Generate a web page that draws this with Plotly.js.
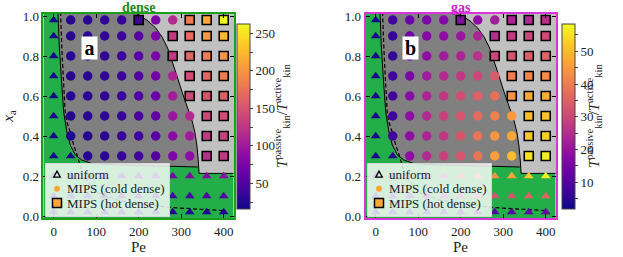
<!DOCTYPE html>
<html><head><meta charset="utf-8">
<script src="https://cdn.plot.ly/plotly-3.0.1.min.js"></script>
<style>html,body{margin:0;padding:0;background:#fff}</style>
</head><body><div id="chart" style="width:623px;height:257px"></div>
<script>
// ---- data ----
const Pe = [0, 40, 80, 120, 160, 200, 240, 280, 320, 360, 400];
const xa = [0.98, 0.9, 0.8, 0.7, 0.6, 0.5, 0.4, 0.3, 0.2, 0.1, 0.02];
// u = uniform, c = MIPS (cold dense), h = MIPS (hot dense)
const phase = [
  "ucccchcchhh",
  "ucccccchhhh",
  "ucccccchhhh",
  "uccccccchhh",
  "uccccccchhh",
  "ucccccccchh",
  "ucccccccchh",
  "uuccccccchh",
  "uuuuuuuuuuu",
  "uuuuuuuuuuu",
  "uuuuuuuuuuu"
];
const denseT = [
  [22, 29, 31, 34, 36, 41, 78, 115, 184, 214, 263],
  [22, 29, 31, 34, 39, 54, 78, 130, 170, 202, 226],
  [22, 29, 31, 34, 39, 54, 78, 128, 165, 184, 202],
  [22, 29, 31, 34, 39, 51, 71, 110, 145, 165, 184],
  [21, 28, 31, 34, 38, 49, 66, 103, 140, 152, 160],
  [21, 28, 30, 33, 36, 46, 61, 98, 115, 140, 145],
  [20, 26, 29, 31, 36, 41, 54, 86, 103, 128, 135],
  [19, 24, 29, 31, 36, 41, 51, 78, 91, 120, 128],
  [18, 26, 31, 36, 41, 49, 58, 71, 78, 83, 86],
  [17, 21, 24, 27, 30, 33, 36, 41, 46, 49, 51],
  [17, 18, 19, 20, 21, 22, 23, 24, 25, 26, 27]
];
const gasT = [
  [3, 7.7, 13.3, 16, 17, 18, 19, 22, 23.5, 24.6, 25.7],
  [3, 6.5, 13.3, 17.3, 19, 20.6, 23.5, 25.7, 28, 30, 31],
  [3, 6.5, 14.4, 19, 21.8, 23.5, 26, 30, 33, 35, 36],
  [3, 7.7, 16, 21.8, 24.6, 27.4, 30.3, 34, 40.4, 41.6, 42.7],
  [3, 7.7, 17.8, 23.5, 27.4, 31.4, 35, 38, 44.4, 47.2, 48.3],
  [3, 7.7, 19, 24.6, 29, 33, 37, 41, 45, 50, 51.2],
  [3, 7.7, 19, 23.5, 27.4, 33, 38.7, 44.4, 47.2, 51.7, 52.9],
  [3, 4.8, 19, 24.6, 29, 33, 38.7, 46, 50, 55.7, 57],
  [3, 8, 14, 20, 26, 32, 38, 44, 47, 52, 57],
  [3, 6, 10, 15, 20, 25, 29, 33, 33, 35, 36],
  [2, 3, 4, 5, 6, 7, 8, 10, 11, 12, 13]
];
// phase boundaries
const coldLeftPe = [10, 13, 18, 23.5, 31, 39, 51, 66, 90, 150, 250, 339];
const coldLeftXa = [1.02, 0.855, 0.685, 0.52, 0.42, 0.355, 0.305, 0.28, 0.262, 0.255, 0.25, 0.245];
const hotEdgePe = [190, 205, 222, 240, 255, 268, 278, 290, 302, 314, 325, 332, 337, 340, 342, 430];
const hotEdgeXa = [1.02, 1.0, 0.975, 0.94, 0.895, 0.84, 0.78, 0.70, 0.62, 0.55, 0.48, 0.42, 0.35, 0.28, 0.213, 0.213];
const spinPe = [16, 20, 27, 31, 39, 47, 55, 70, 100, 150, 200, 274, 340, 403];
const spinXa = [1.02, 0.8, 0.52, 0.47, 0.42, 0.355, 0.305, 0.2, 0.12, 0.08, 0.06, 0.043, 0.034, 0.027];
const legendNames = ["uniform", "MIPS (cold dense)", "MIPS (hot dense)"];

// ---- styles ----
const FONT = "Liberation Serif, Times New Roman, serif";
const GREEN = "#23ae4a";
const DARK = "#808080", LIGHT = "#c0c0c0";
const PLASMA = [[0, "#0d0887"], [0.1, "#41049d"], [0.2, "#6a00a8"], [0.3, "#8f0da4"], [0.4, "#b12a90"],
  [0.5, "#cc4778"], [0.6, "#e16462"], [0.7, "#f2844b"], [0.8, "#fca636"], [0.9, "#fcce25"], [1, "#f0f921"]];
const W = 623, PLOT_TOP = 14, PLOT_BOT = 218;
const px2x = p => p / W;
const py2y = p => (PLOT_BOT - p) / (PLOT_BOT - PLOT_TOP);

function panel(T, xid, yid, cax) {
  const tr = [];
  const dx = coldLeftPe.concat([345, 345]);
  const dy = coldLeftXa.concat([0.245, 1.02]);
  tr.push({x: dx, y: dy, xaxis: xid, yaxis: yid, mode: "lines", fill: "toself",
    fillcolor: DARK, line: {width: 0}, hoverinfo: "skip", showlegend: false});
  const lx = hotEdgePe.concat([430]);
  const ly = hotEdgeXa.concat([1.02]);
  tr.push({x: lx, y: ly, xaxis: xid, yaxis: yid, mode: "lines", fill: "toself",
    fillcolor: LIGHT, line: {width: 0}, hoverinfo: "skip", showlegend: false});
  tr.push({x: coldLeftPe, y: coldLeftXa, xaxis: xid, yaxis: yid, mode: "lines",
    line: {color: "black", width: 1}, hoverinfo: "skip", showlegend: false});
  tr.push({x: hotEdgePe, y: hotEdgeXa, xaxis: xid, yaxis: yid, mode: "lines",
    line: {color: "black", width: 1}, hoverinfo: "skip", showlegend: false});
  tr.push({x: spinPe, y: spinXa, xaxis: xid, yaxis: yid, mode: "lines",
    line: {color: "black", width: 1.2, dash: "4px,2.5px"}, hoverinfo: "skip", showlegend: false});
  const sets = {u: {x: [], y: [], c: []}, c: {x: [], y: [], c: []}, h: {x: [], y: [], c: []}};
  for (let i = 0; i < xa.length; i++) {
    for (let j = 0; j < Pe.length; j++) {
      const s = sets[phase[i][j]];
      s.x.push(Pe[j]); s.y.push(xa[i]); s.c.push(T[i][j]);
    }
  }
  tr.push({x: sets.u.x, y: sets.u.y, xaxis: xid, yaxis: yid, mode: "markers", showlegend: false,
    marker: {symbol: "triangle-up", size: 8.5, color: sets.u.c, coloraxis: cax, line: {width: 0}}, hoverinfo: "skip"});
  tr.push({x: sets.c.x, y: sets.c.y, xaxis: xid, yaxis: yid, mode: "markers", showlegend: false,
    marker: {symbol: "circle", size: 9.5, color: sets.c.c, coloraxis: cax, line: {width: 0}}, hoverinfo: "skip"});
  tr.push({x: sets.h.x, y: sets.h.y, xaxis: xid, yaxis: yid, mode: "markers", showlegend: false,
    marker: {symbol: "square", size: 9, color: sets.h.c, coloraxis: cax, line: {width: 1.6, color: "black"}}, hoverinfo: "skip"});
  return tr;
}

const data = panel(denseT, "x", "y", "coloraxis").concat(panel(gasT, "x2", "y2", "coloraxis2"));

// hand-drawn legend boxes (matplotlib style)
const shapes = [], annotations = [];
function legendBox(left) {
  const right = left + 124, top = 163.5, bot = 216.5;
  shapes.push({type: "rect", xref: "paper", yref: "paper", x0: px2x(left), x1: px2x(right),
    y0: py2y(bot), y1: py2y(top), fillcolor: "rgba(255,255,255,0.82)", line: {color: "#d6d6d6", width: 1}, layer: "above"});
  const rows = [174.5, 188.7, 203];
  const sx = px2x(left + 11.5);
  shapes.push({type: "path", xref: "paper", yref: "paper", xsizemode: "pixel", ysizemode: "pixel",
    xanchor: sx, yanchor: py2y(rows[0]), path: "M -3.3 -2.6 L 3.3 -2.6 L 0 3.3 Z",
    line: {color: "black", width: 1.3}, fillcolor: "rgba(0,0,0,0)"});
  shapes.push({type: "circle", xref: "paper", yref: "paper", xsizemode: "pixel", ysizemode: "pixel",
    xanchor: sx, yanchor: py2y(rows[1]), x0: -3, x1: 3, y0: -3, y1: 3, fillcolor: "#fca636", line: {width: 0}});
  shapes.push({type: "rect", xref: "paper", yref: "paper", xsizemode: "pixel", ysizemode: "pixel",
    xanchor: sx, yanchor: py2y(rows[2]), x0: -4.5, x1: 4.5, y0: -4.5, y1: 4.5, fillcolor: "#fca636",
    line: {color: "black", width: 1.5}});
  for (let k = 0; k < 3; k++) {
    annotations.push({text: legendNames[k], xref: "paper", yref: "paper", x: px2x(left + 19.5), y: py2y(rows[k]),
      xanchor: "left", yanchor: "middle", showarrow: false, font: {family: FONT, size: 13, color: "#222"}});
  }
}
legendBox(45.5);
legendBox(367.5);

function xax(dom, col, anchor) {
  return {domain: dom, anchor: anchor, range: [-24, 423], tickvals: [0, 100, 200, 300, 400],
    ticks: "inside", ticklen: 4, tickcolor: "black", tickwidth: 1,
    showline: true, linecolor: col, linewidth: 2, mirror: "ticks",
    showgrid: false, zeroline: false, tickfont: {family: FONT, size: 13, color: "#222"},
    title: {text: "Pe", font: {family: FONT, size: 15, color: "#222"}, standoff: 4}};
}
function yax(col, anchor, title) {
  const a = {domain: [0, 1], anchor: anchor, range: [-0.01, 1.01], tickvals: [0, 0.2, 0.4, 0.6, 0.8, 1.0],
    tickformat: ".1f", ticks: "inside", ticklen: 4, tickcolor: "black", tickwidth: 1,
    showline: true, linecolor: col, linewidth: 2, mirror: "ticks",
    showgrid: false, zeroline: false, tickfont: {family: FONT, size: 13, color: "#222"}};
  if (title) a.title = {text: title, font: {family: FONT, size: 15, color: "#222"}, standoff: 6};
  return a;
}
function cbar(x, vals, txt) {
  return {x: x, xanchor: "left", xpad: 0, ypad: 0, y: 0.5, yanchor: "middle", len: 0.907, lenmode: "fraction",
    thickness: 13, outlinewidth: 1, outlinecolor: "#444", ticks: "outside", ticklen: 3, tickcolor: "#444",
    tickvals: vals, ticktext: txt, tickfont: {family: FONT, size: 13, color: "#222"}};
}
const cbTitle = "<i>T</i><sup>passive</sup><sub>kin</sub>/<i>T</i><sup>active</sup><sub>kin</sub>";

annotations.push(
  {text: "<b>dense</b>", xref: "x domain", yref: "y domain", x: 0.5, y: 1, yanchor: "bottom", yshift: -3,
    showarrow: false, font: {family: FONT, size: 14, color: "#1a8c1a"}},
  {text: "<b>gas</b>", xref: "x2 domain", yref: "y2 domain", x: 0.5, y: 1, yanchor: "bottom", yshift: -3,
    showarrow: false, font: {family: FONT, size: 14, color: "#cc22cc"}},
  {text: "<b>a</b>", xref: "x domain", yref: "y domain", x: 0.195, y: 0.892, showarrow: false,
    bgcolor: "white", width: 15, height: 22, borderpad: 0, font: {family: FONT, size: 20, color: "black"}},
  {text: "<b>b</b>", xref: "x2 domain", yref: "y2 domain", x: 0.19, y: 0.892, showarrow: false,
    bgcolor: "white", width: 15, height: 22, borderpad: 0, font: {family: FONT, size: 20, color: "black"}},
  {text: cbTitle, xref: "paper", yref: "paper", x: 282 / W, y: 0.5, textangle: -90, showarrow: false,
    font: {family: FONT, size: 15, color: "#222"}},
  {text: cbTitle, xref: "paper", yref: "paper", x: 606 / W, y: 0.5, textangle: -90, showarrow: false,
    font: {family: FONT, size: 15, color: "#222"}}
);

const layout = {
  width: 623, height: 257, margin: {l: 0, r: 0, t: PLOT_TOP, b: 257 - PLOT_BOT},
  paper_bgcolor: "white", plot_bgcolor: GREEN, showlegend: false,
  font: {family: FONT, color: "#222"},
  xaxis: xax([0.0698, 0.3748], "#1ca01c", "y"),
  yaxis: yax("#1ca01c", "x", "<i>x</i><sub>a</sub>"),
  xaxis2: xax([0.5867, 0.8917], "#dd33dd", "y2"),
  yaxis2: yax("#dd33dd", "x2", null),
  coloraxis: {colorscale: PLASMA, cmin: 16.7, cmax: 263, showscale: true,
    colorbar: cbar(0.381, [25, 50, 75, 100, 125, 150, 175, 200, 225, 250], ["", "50", "", "100", "", "150", "", "200", "", "250"])},
  coloraxis2: {colorscale: PLASMA, cmin: 2, cmax: 58.5, showscale: true,
    colorbar: cbar(0.9016, [5, 10, 15, 20, 25, 30, 35, 40, 45, 50, 55], ["", "10", "", "20", "", "30", "", "40", "", "50", ""])},
  shapes: shapes,
  annotations: annotations
};
Plotly.newPlot("chart", data, layout, {displayModeBar: false, staticPlot: true});
</script></body></html>
